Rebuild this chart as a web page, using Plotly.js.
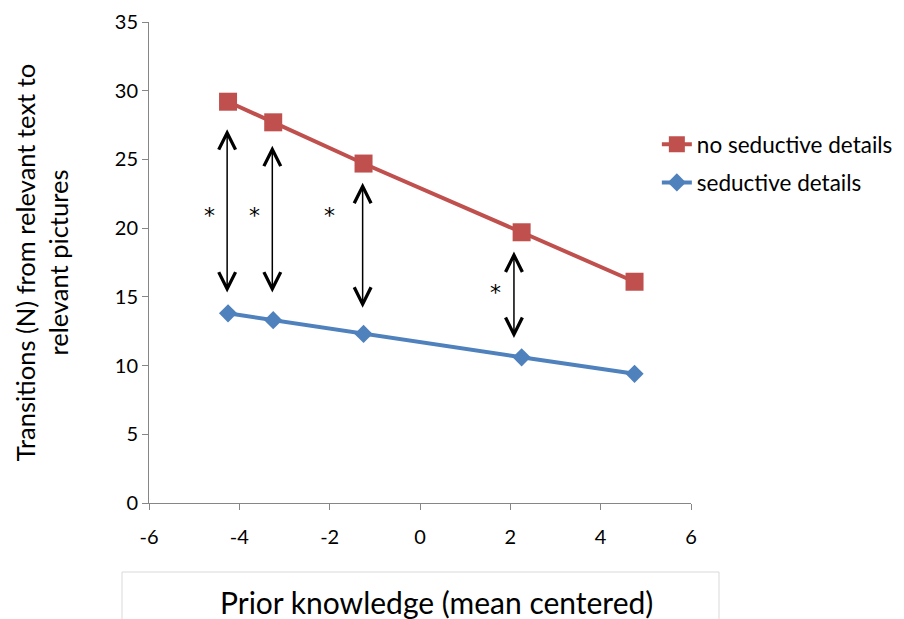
<!DOCTYPE html>
<html>
<head>
<meta charset="utf-8">
<script src="https://cdn.plot.ly/plotly-3.0.1.min.js"></script>
<style>html,body{margin:0;padding:0;background:#fff;}#chart{width:904px;height:619px;}</style>
</head>
<body>
<div id="chart"></div>
<script>
// Data
const priorKnowledge = [-4.25, -3.25, -1.25, 2.25, 4.75];
const noSeductive = [29.2, 27.7, 24.7, 19.7, 16.1];
const seductive = [13.8, 13.3, 12.3, 10.6, 9.4];
const seriesNames = ["no seductive details", "seductive details"];

// Significance arrows (x, top, bottom) and asterisk positions
const arrowX = [-4.27, -3.27, -1.27, 2.08];
const arrowTop = [27.2, 26.0, 23.3, 18.3];
const arrowBottom = [15.2, 15.2, 14.1, 11.9];
const starX = [-4.65, -3.66, -2.0, 1.68];
const starY = [21.2, 21.2, 21.2, 15.6];

const xTicks = [-6, -4, -2, 0, 2, 4, 6];
const yTicks = [0, 5, 10, 15, 20, 25, 30, 35];

const FONT = 'Lato, "Open Sans", sans-serif';

const traces = [
  {
    x: priorKnowledge, y: noSeductive, name: seriesNames[0], type: 'scatter', mode: 'lines+markers',
    line: {color: '#C0504D', width: 4},
    marker: {symbol: 'square', size: 18, color: '#C0504D'},
    legendgroup: 'a'
  },
  {
    x: priorKnowledge, y: seductive, name: seriesNames[1], type: 'scatter', mode: 'lines+markers',
    line: {color: '#4F81BD', width: 4},
    marker: {symbol: 'diamond', size: 14, color: '#4F81BD'},
    legendgroup: 'b'
  }
];

const annotations = [];
for (let i = 0; i < arrowX.length; i++) {
  annotations.push({
    x: arrowX[i], y: arrowTop[i], xref: 'x', yref: 'y',
    ax: arrowX[i], ay: arrowBottom[i], axref: 'x', ayref: 'y',
    text: '', showarrow: true, arrowhead: 5, startarrowhead: 5, arrowside: 'end+start',
    arrowsize: 2.2, startarrowsize: 2.2, arrowwidth: 1.5, arrowcolor: '#000'
  });
}
for (let i = 0; i < starX.length; i++) {
  annotations.push({
    x: starX[i], y: starY[i], xref: 'x', yref: 'y', text: '*', showarrow: false, yshift: -4,
    font: {family: '"DejaVu Sans", sans-serif', size: 22, color: '#000'}
  });
}
annotations.push({
  x: (436 - 149) / 542, y: (503 - 602) / 481, xref: 'paper', yref: 'paper',
  text: 'Prior knowledge (mean centered)', showarrow: false,
  font: {family: FONT, size: 30, color: '#000'}, xanchor: 'center', yanchor: 'middle'
});

const layout = {
  width: 904, height: 619,
  margin: {l: 149, r: 213, t: 22, b: 116, autoexpand: false},
  paper_bgcolor: '#fff', plot_bgcolor: '#fff',
  font: {family: FONT, size: 19, color: '#000'},
  showlegend: true,
  legend: {
    x: 0.937, y: 0.79, xanchor: 'left', yanchor: 'top',
    font: {family: FONT, size: 22.5, color: '#000'},
    traceorder: 'grouped', tracegroupgap: 6, bgcolor: 'rgba(0,0,0,0)'
  },
  xaxis: {
    range: [-6, 6], tickvals: xTicks, ticktext: xTicks.map(String), automargin: false,
    showgrid: false, zeroline: false, showline: true, linecolor: '#868686', linewidth: 1,
    ticks: 'outside', ticklen: 6, tickcolor: '#868686', ticklabelstandoff: 10,
    tickfont: {family: FONT, size: 20, color: '#000'}
  },
  yaxis: {
    range: [0, 35], tickvals: yTicks, ticktext: yTicks.map(String), automargin: false,
    showgrid: false, zeroline: false, showline: true, linecolor: '#868686', linewidth: 1,
    ticks: 'outside', ticklen: 6, tickcolor: '#868686',
    tickfont: {family: FONT, size: 20, color: '#000'},
    title: {text: 'Transitions (N) from relevant text to<br>relevant pictures', standoff: 38,
            font: {family: FONT, size: 25.5, color: '#000'}}
  },
  shapes: [{
    type: 'rect', xref: 'paper', yref: 'paper',
    x0: (122 - 149) / 542, x1: (719 - 149) / 542,
    y0: (503 - 572) / 481, y1: (503 - 640) / 481,
    line: {color: '#D9D9D9', width: 1}, fillcolor: 'rgba(0,0,0,0)', layer: 'below'
  }],
  annotations: annotations
};

Plotly.newPlot('chart', traces, layout, {displayModeBar: false, responsive: false});
</script>
</body>
</html>
